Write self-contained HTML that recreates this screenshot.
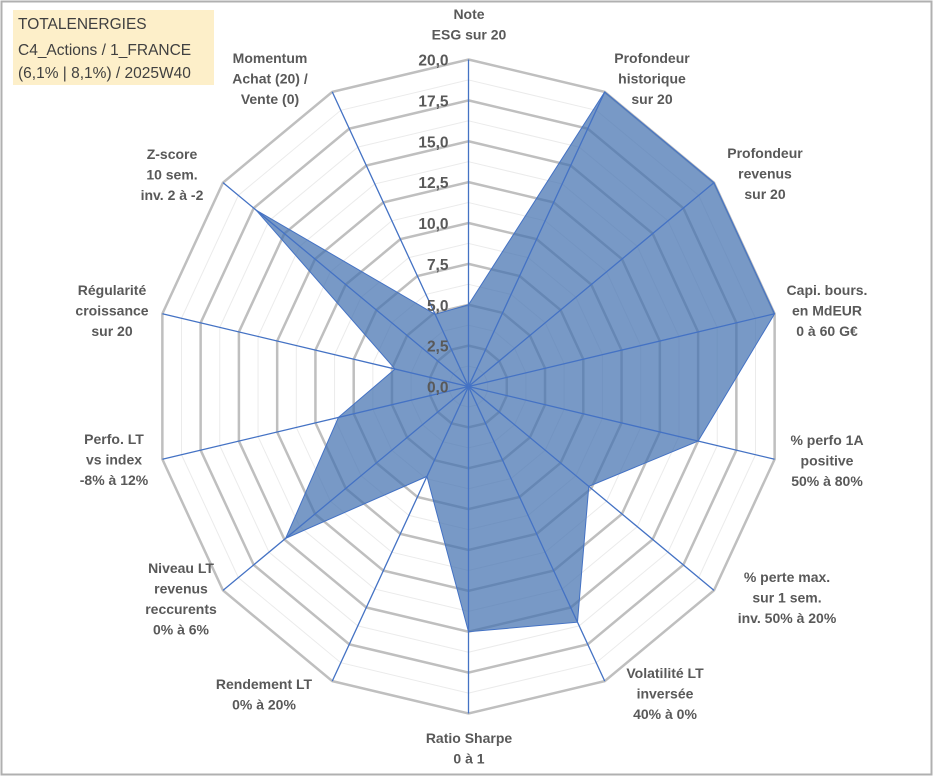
<!DOCTYPE html>
<html><head><meta charset="utf-8"><style>
body{margin:0;background:#fff;}
#wrap{position:relative;width:933px;height:776px;overflow:hidden;font-family:"Liberation Sans",Arial,sans-serif;}
</style></head><body>
<div id="wrap">
<svg id="chart" width="933" height="776" xmlns="http://www.w3.org/2000/svg">
<rect x="1.5" y="1.5" width="930" height="773" fill="#fff" stroke="#b0b0b0" stroke-width="2"/>
<g>
<rect x="13" y="10" width="201" height="75" fill="#fdefc9"/>
<text x="18" y="29" font-size="15.5" fill="#404040">TOTALENERGIES</text>
<text x="18" y="55" font-size="15.5" fill="#404040">C4_Actions / 1_FRANCE</text>
<text x="18" y="78" font-size="15.5" fill="#404040">(6,1% | 8,1%) / 2025W40</text>
</g>
<g id="grid"></g><g id="series"></g><g id="spokes"></g><g id="ticks"></g><g id="labels"></g>
</svg>
</div>
<script>
const categories=[["Note","ESG sur 20"],["Profondeur","historique","sur 20"],["Profondeur","revenus","sur 20"],["Capi. bours.","en MdEUR","0 à 60 G€"],["% perfo 1A","positive","50% à 80%"],["% perte max.","sur 1 sem.","inv. 50% à 20%"],["Volatilité LT","inversée","40% à 0%"],["Ratio Sharpe","0 à 1"],["Rendement LT","0% à 20%"],["Niveau LT","revenus","reccurents","0% à 6%"],["Perfo. LT","vs index","-8% à 12%"],["Régularité","croissance","sur 20"],["Z-score","10 sem.","inv. 2 à -2"],["Momentum","Achat (20) /","Vente (0)"]];
const values=[5,20,20,20,15,9.8,16,15,6.1,14.9,8.5,4.8,17.3,4.9];
const tickLabels=["0,0","2,5","5,0","7,5","10,0","12,5","15,0","17,5","20,0"];
const maxValue=20;
const labelPos=[[469,14],[652,58],[765,153],[827,290],[827,440],[787,577],[665,673],[469,738],[264,684],[181,568],[114,439],[112,290],[172,154],[270,58]];

const NS="http://www.w3.org/2000/svg";
const cx=468.5,cy=386.5,rx=314,ry=327;
const N=categories.length;
function ang(i){return i*2*Math.PI/N;}
function pt(i,v){const a=ang(i);return [cx+rx*(v/maxValue)*Math.sin(a),cy-ry*(v/maxValue)*Math.cos(a)];}
function mk(tag,attrs,parent){const e=document.createElementNS(NS,tag);for(const k in attrs)e.setAttribute(k,attrs[k]);parent.appendChild(e);return e;}
const grid=document.getElementById('grid');
for(let s=1;s<=16;s++){
  const v=s*maxValue/16;const pts=[];
  for(let i=0;i<N;i++)pts.push(pt(i,v).join(','));
  const major=s%2===0;
  const p=mk('polygon',{points:pts.join(' '),fill:'none',stroke:major?'#bfbfbf':'#ebebeb','stroke-width':major?2.5:1},grid);
  
  
}
const series=document.getElementById('series');
const sp=[];for(let i=0;i<N;i++)sp.push(pt(i,values[i]).join(','));
const poly=mk('polygon',{points:sp.join(' '),fill:'rgb(68,114,176)','fill-opacity':0.72,stroke:'#4472c4','stroke-width':1},series);


const spokes=document.getElementById('spokes');
for(let i=0;i<N;i++){
  const e=pt(i,maxValue);
  const l=mk('line',{x1:cx,y1:cy,x2:e[0],y2:e[1],stroke:'#4472c4','stroke-width':1.3},spokes);
  
  
}
const ticks=document.getElementById('ticks');
for(let t=0;t<tickLabels.length;t++){
  const v=t*maxValue/(tickLabels.length-1);
  const y=cy-ry*v/maxValue;
  const tx=mk('text',{x:cx-20,y:y+6,'text-anchor':'end','font-size':15.5,'font-weight':'bold',fill:'#595959'},ticks);
  tx.textContent=tickLabels[t];
  
  
}
const labels=document.getElementById('labels');
for(let i=0;i<N;i++){
  const g=mk('text',{x:labelPos[i][0],y:labelPos[i][1]+5,'text-anchor':'middle','font-size':14,'font-weight':'bold',fill:'#595959'},labels);
  
  
  categories[i].forEach((ln,j)=>{const ts=mk('tspan',{x:labelPos[i][0],dy:j===0?0:20.5},g);ts.textContent=ln;});
}
</script>
</body></html>
